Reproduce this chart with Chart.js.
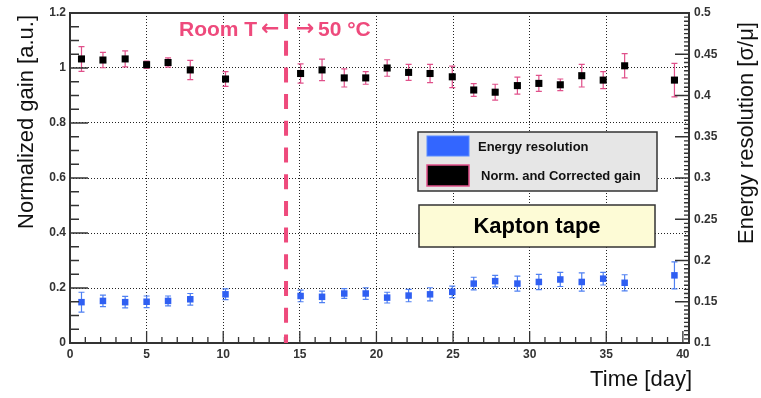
<!DOCTYPE html>
<html>
<head>
<meta charset="utf-8">
<script src="https://cdn.jsdelivr.net/npm/chart.js@4/dist/chart.umd.min.js"></script>
<style>
  html, body { margin: 0; padding: 0; background: #fff; }
  #wrap { width: 761px; height: 398px; }
</style>
</head>
<body>
<div id="wrap"><canvas id="gainChart" width="761" height="398"></canvas></div>
<script>
// Measurement days (same for both series)
const days = [0.75, 2.15, 3.6, 5.0, 6.4, 7.85, 10.15,
  15.05, 16.45, 17.9, 19.3, 20.7, 22.1, 23.5, 24.95, 26.35, 27.75, 29.2, 30.6, 32.0, 33.4, 34.8, 36.2, 39.45];

// Normalized and corrected gain (left axis)
const gain = [1.033, 1.029, 1.033, 1.012, 1.020, 0.993, 0.960,
  0.980, 0.993, 0.964, 0.964, 1.000, 0.984, 0.980, 0.968, 0.920, 0.912, 0.936, 0.944, 0.939, 0.972, 0.956, 1.008, 0.956];
const gainErr = [0.045, 0.028, 0.029, 0.013, 0.017, 0.035, 0.027,
  0.035, 0.039, 0.033, 0.023, 0.030, 0.029, 0.033, 0.039, 0.023, 0.029, 0.031, 0.029, 0.021, 0.041, 0.031, 0.044, 0.061];

// Energy resolution (right axis)
const resolution = [0.1495, 0.151, 0.1495, 0.150, 0.151, 0.153, 0.159,
  0.157, 0.156, 0.160, 0.160, 0.155, 0.1575, 0.159, 0.162, 0.172, 0.175, 0.172, 0.174, 0.177, 0.174, 0.178, 0.173, 0.182];
const resolutionErr = [0.012, 0.007, 0.007, 0.007, 0.006, 0.007, 0.0065,
  0.007, 0.007, 0.006, 0.007, 0.0065, 0.0075, 0.008, 0.007, 0.0077, 0.007, 0.009, 0.0093, 0.0085, 0.011, 0.0077, 0.0097, 0.0164];

// Tick labels
const timeTicks = [0, 5, 10, 15, 20, 25, 30, 35, 40];
const gainTicks = [0, 0.2, 0.4, 0.6, 0.8, 1, 1.2];
const resTicks = [0.1, 0.15, 0.2, 0.25, 0.3, 0.35, 0.4, 0.45, 0.5];

// Day when temperature changed from room T to 50 °C
const switchDay = 14.1;

const pink = '#ee4a7c';
const font = "'Liberation Sans', Arial, sans-serif";

// Error bars drawn under the markers
const errorBars = {
    id: 'errorBars',
    beforeDatasetsDraw(chart) {
        const ctx = chart.ctx;
        const xs = chart.scales.x;
        chart.data.datasets.forEach(ds => {
            const ys = chart.scales[ds.yAxisID];
            ctx.save();
            ctx.strokeStyle = ds.errorColor;
            ctx.lineWidth = 1.2;
            ds.data.forEach((p, i) => {
                const x = xs.getPixelForValue(p.x);
                const y1 = ys.getPixelForValue(p.y - ds.errors[i]);
                const y2 = ys.getPixelForValue(p.y + ds.errors[i]);
                ctx.beginPath();
                ctx.moveTo(x, y1); ctx.lineTo(x, y2);
                ctx.moveTo(x - 3, y1); ctx.lineTo(x + 3, y1);
                ctx.moveTo(x - 3, y2); ctx.lineTo(x + 3, y2);
                ctx.stroke();
            });
            ctx.restore();
        });
    }
};

// Frame, inside ticks, dashed line, labels and boxes
const decorations = {
    id: 'decorations',
    afterDraw(chart) {
        const { ctx, chartArea: a, scales } = chart;
        ctx.save();

        // inside tick marks
        ctx.strokeStyle = '#333';
        ctx.lineWidth = 1.3;
        ctx.beginPath();
        for (let d = 0; d <= 40; d++) {
            const x = scales.x.getPixelForValue(d);
            const len = d % 5 === 0 ? 12 : 6;
            ctx.moveTo(x, a.bottom); ctx.lineTo(x, a.bottom - len);
        }
        for (let i = 0; i <= 24; i++) {
            const y = scales.y.getPixelForValue(i * 0.05);
            const len = i % 4 === 0 ? 18 : 9;
            ctx.moveTo(a.left, y); ctx.lineTo(a.left + len, y);
        }
        for (let i = 0; i <= 80; i++) {
            const y = scales.yRes.getPixelForValue(0.1 + i * 0.005);
            const len = i % 10 === 0 ? 14 : 5;
            ctx.moveTo(a.right, y); ctx.lineTo(a.right - len, y);
        }
        ctx.stroke();

        // frame
        ctx.lineWidth = 2;
        ctx.strokeRect(a.left, a.top, a.right - a.left, a.bottom - a.top);

        // temperature change line
        const xs = scales.x.getPixelForValue(switchDay);
        ctx.strokeStyle = pink;
        ctx.lineWidth = 4;
        ctx.setLineDash([15, 11.7]);
        ctx.beginPath();
        ctx.moveTo(xs, a.top + 1); ctx.lineTo(xs, a.bottom);
        ctx.stroke();
        ctx.setLineDash([]);

        ctx.fillStyle = pink;
        ctx.font = 'bold 21px ' + font;
        ctx.textBaseline = 'middle';
        ctx.textAlign = 'left';
        ctx.fillText('Room T', 179, 30);
        ctx.fillText('50 °C', 318, 30);
        ctx.font = 'bold 22px "DejaVu Sans", sans-serif';
        ctx.fillText('←', 261, 29);
        ctx.fillText('→', 296, 29);

        // legend box
        ctx.fillStyle = '#e6e6e6';
        ctx.fillRect(418, 132, 239, 59);
        ctx.strokeStyle = '#333';
        ctx.lineWidth = 1.5;
        ctx.strokeRect(418, 132, 239, 59);
        ctx.fillStyle = '#3366ff';
        ctx.fillRect(427, 136, 42, 20);
        ctx.strokeStyle = '#5a8cff';
        ctx.lineWidth = 1;
        ctx.strokeRect(427, 136, 42, 20);
        ctx.fillStyle = '#000';
        ctx.fillRect(427, 165, 42, 21);
        ctx.strokeStyle = '#e0508a';
        ctx.lineWidth = 1.5;
        ctx.strokeRect(427, 165, 42, 21);
        ctx.fillStyle = '#111';
        ctx.font = 'bold 13px ' + font;
        ctx.fillText('Energy resolution', 478, 147);
        ctx.fillText('Norm. and Corrected gain', 481, 176);

        // sample label
        ctx.fillStyle = '#fdfbd6';
        ctx.fillRect(419, 205, 236, 42);
        ctx.strokeStyle = '#333';
        ctx.lineWidth = 1.5;
        ctx.strokeRect(419, 205, 236, 42);
        ctx.fillStyle = '#000';
        ctx.font = 'bold 22px ' + font;
        ctx.textAlign = 'center';
        ctx.fillText('Kapton tape', 537, 227);

        // axis titles
        ctx.font = '22px ' + font;
        ctx.fillStyle = '#111';
        ctx.textAlign = 'right';
        ctx.fillText('Time [day]', 692, 380);
        ctx.textAlign = 'center';
        ctx.save();
        ctx.translate(27, 122);
        ctx.rotate(-Math.PI / 2);
        ctx.fillText('Normalized gain [a.u.]', 0, 0);
        ctx.restore();
        ctx.save();
        ctx.translate(747, 133);
        ctx.rotate(-Math.PI / 2);
        ctx.fillText('Energy resolution [σ/μ]', 0, 0);
        ctx.restore();

        ctx.restore();
    }
};

const tickFont = { family: font, size: 12, weight: 'bold' };
const fmt = v => String(Math.round(v * 1000) / 1000);
const dotted = v => ctx => (ctx.tick && (ctx.tick.value === v[0] || ctx.tick.value === v[1])) ? 'rgba(0,0,0,0)' : '#222';

const ctx = document.getElementById('gainChart').getContext('2d');
const gainChart = new Chart(ctx, {
    type: 'scatter',
    data: {
        datasets: [{
            label: 'Energy resolution',
            data: days.map((d, i) => ({ x: d, y: resolution[i] })),
            yAxisID: 'yRes',
            errors: resolutionErr,
            errorColor: '#4f80f2',
            pointStyle: 'rect',
            pointRadius: 4.6,
            backgroundColor: '#2f5ff2',
            borderWidth: 0
        }, {
            label: 'Norm. and Corrected gain',
            data: days.map((d, i) => ({ x: d, y: gain[i] })),
            yAxisID: 'y',
            errors: gainErr,
            errorColor: '#e0508a',
            pointStyle: 'rect',
            pointRadius: 5,
            backgroundColor: '#000',
            borderWidth: 0
        }]
    },
    options: {
        responsive: false,
        animation: false,
        layout: { padding: { top: 13 } },
        plugins: {
            legend: { display: false },
            tooltip: { enabled: false }
        },
        scales: {
            x: {
                type: 'linear',
                min: 0,
                max: 40.4,
                afterBuildTicks: s => { s.ticks = timeTicks.map(v => ({ value: v })); },
                afterFit: s => { s.height = 55; },
                grid: { color: dotted([0, 40]), lineWidth: 1, drawTicks: false },
                border: { display: false, dash: [1, 2] },
                ticks: { font: tickFont, color: '#333', padding: 4, maxRotation: 0, callback: fmt }
            },
            y: {
                position: 'left',
                min: 0,
                max: 1.2,
                afterBuildTicks: s => { s.ticks = gainTicks.map(v => ({ value: v })); },
                afterFit: s => { s.width = 70; },
                grid: { color: dotted([0, 1.2]), lineWidth: 1, drawTicks: false },
                border: { display: false, dash: [1, 2] },
                ticks: { font: tickFont, color: '#333', padding: 4, callback: fmt }
            },
            yRes: {
                position: 'right',
                min: 0.1,
                max: 0.5,
                afterBuildTicks: s => { s.ticks = resTicks.map(v => ({ value: v })); },
                afterFit: s => { s.width = 72; },
                grid: { display: false, drawTicks: false },
                border: { display: false },
                ticks: { font: tickFont, color: '#333', padding: 5, callback: fmt }
            }
        }
    },
    plugins: [errorBars, decorations]
});
</script>
</body>
</html>
